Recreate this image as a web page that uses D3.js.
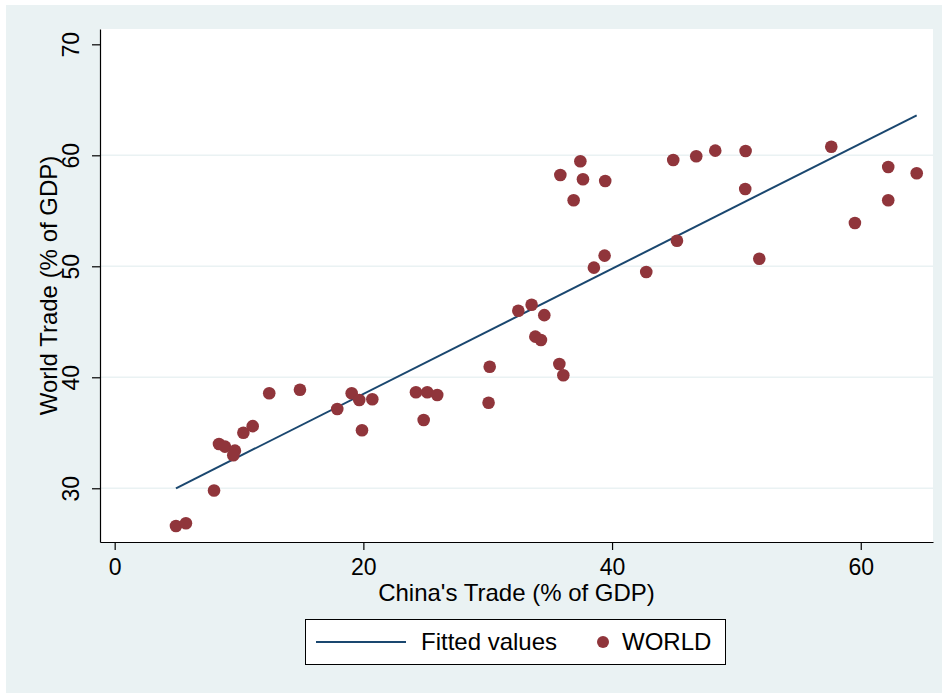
<!DOCTYPE html>
<html>
<head>
<meta charset="utf-8">
<script src="https://cdn.jsdelivr.net/npm/d3@7"></script>
<style>
  body { margin: 0; background: #fff; }
  text { font-family: "Liberation Sans", Arial, Helvetica, sans-serif; fill: #000; }
</style>
</head>
<body>
<div id="chart"></div>
<script>
// ===========Data
var chinaTrade = [4.93, 5.73, 7.99, 8.39, 8.87, 9.67, 9.54, 10.35, 11.1, 12.43,
    14.9, 17.9, 19.06, 19.67, 20.72, 19.89, 24.23, 25.14, 25.94, 24.85,
    30.16, 30.07, 32.46, 33.53, 34.55, 33.83, 34.28, 35.76, 36.08, 35.84,
    37.45, 37.66, 36.91, 39.45, 39.4, 38.54, 42.75, 44.92, 45.22, 46.77,
    48.3, 50.74, 50.71, 51.84, 57.63, 59.53, 62.21, 62.21, 64.5];
var worldTrade = [26.6, 26.85, 29.8, 33.99, 33.75, 33.39, 32.97, 35.0, 35.6, 38.56,
    38.88, 37.14, 38.56, 37.95, 38.02, 35.23, 38.65, 38.65, 38.4, 36.15,
    40.95, 37.71, 46.0, 46.54, 45.6, 43.66, 43.36, 41.2, 40.18, 58.22,
    59.46, 57.84, 55.95, 57.68, 50.96, 49.88, 49.49, 59.58, 52.3, 59.91,
    60.42, 60.39, 56.96, 50.68, 60.77, 53.9, 58.95, 55.95, 58.38];

// fitted line end points
var fitX = [4.93, 64.5];
var fitY = [30.0, 63.6];

var xTicks = [0, 20, 40, 60];
var yTicks = [30, 40, 50, 60, 70];
var yGrid = [30, 40, 50, 60];

var points = chinaTrade.map(function(d, i) { return {x: d, y: worldTrade[i]}; });
var fitted = fitX.map(function(d, i) { return {x: d, y: fitY[i]}; });

// ===========Sizes
var svgWidth = 942;
var svgHeight = 693;
var plot = {left: 100, top: 29, right: 933, bottom: 542};

var lineColor = "#1a476f";
var dotColor = "#90353b";
var bgColor = "#eaf2f3";

var svg = d3.select("#chart").append("svg")
    .attr("width", svgWidth)
    .attr("height", svgHeight);

// outer background
svg.append("rect")
    .attr("x", 6).attr("y", 5)
    .attr("width", svgWidth - 6).attr("height", svgHeight - 5)
    .attr("fill", bgColor);

// plot region
svg.append("rect")
    .attr("x", plot.left).attr("y", plot.top)
    .attr("width", plot.right - plot.left).attr("height", plot.bottom - plot.top)
    .attr("fill", "#fff");

// ===========Scales
var xScale = d3.scaleLinear()
    .domain([-1.18, 65.81])
    .range([plot.left, plot.right]);

var yScale = d3.scaleLinear()
    .domain([25.16, 71.38])
    .range([plot.bottom, plot.top]);

// gridlines
svg.append("g").selectAll("line")
    .data(yGrid)
    .enter()
    .append("line")
    .attr("x1", plot.left)
    .attr("x2", plot.right)
    .attr("y1", d => yScale(d))
    .attr("y2", d => yScale(d))
    .attr("stroke", bgColor)
    .attr("stroke-width", 1.5);

// ===========Axes
var bottomAxis = d3.axisBottom(xScale).tickValues(xTicks).tickSize(8).tickSizeOuter(0);
var leftAxis = d3.axisLeft(yScale).tickValues(yTicks).tickSize(8).tickSizeOuter(0);

var xAxis = svg.append("g")
    .attr("transform", `translate(0, ${plot.bottom})`)
    .call(bottomAxis);
xAxis.select(".domain").attr("stroke", "#000").attr("stroke-width", 1.2);
xAxis.selectAll(".tick line").attr("stroke", "#000").attr("stroke-width", 1.2);
xAxis.selectAll(".tick text")
    .attr("y", 33)
    .attr("dy", 0)
    .attr("font-size", "23px")
    .attr("font-family", "Liberation Sans, Arial, sans-serif")
    .attr("fill", "#000");

var yAxis = svg.append("g")
    .attr("transform", `translate(${plot.left}, 0)`)
    .call(leftAxis);
yAxis.select(".domain").attr("stroke", "#000").attr("stroke-width", 1.2);
yAxis.selectAll(".tick line").attr("stroke", "#000").attr("stroke-width", 1.2);
yAxis.selectAll(".tick text")
    .attr("transform", "rotate(-90)")
    .attr("x", 0)
    .attr("y", -21)
    .attr("dy", 0)
    .attr("text-anchor", "middle")
    .attr("font-size", "23px")
    .attr("font-family", "Liberation Sans, Arial, sans-serif")
    .attr("fill", "#000");

// axis titles
svg.append("text")
    .attr("x", (plot.left + plot.right) / 2)
    .attr("y", 601)
    .attr("text-anchor", "middle")
    .attr("font-size", "24px")
    .text("China's Trade (% of GDP)");

svg.append("text")
    .attr("transform", `translate(57, ${(plot.top + plot.bottom) / 2}) rotate(-90)`)
    .attr("text-anchor", "middle")
    .attr("font-size", "24px")
    .text("World Trade (% of GDP)");

// ===========Fitted line
var line = d3.line()
    .x(d => xScale(d.x))
    .y(d => yScale(d.y));

svg.append("path")
    .datum(fitted)
    .attr("d", line)
    .attr("fill", "none")
    .attr("stroke", lineColor)
    .attr("stroke-width", 2);

// ===========Scatter points
svg.append("g").selectAll("circle")
    .data(points)
    .enter()
    .append("circle")
    .attr("cx", d => xScale(d.x))
    .attr("cy", d => yScale(d.y))
    .attr("r", 6.3)
    .attr("fill", dotColor);

// ===========Legend
var legend = svg.append("g");
legend.append("rect")
    .attr("x", 305.5).attr("y", 619.5)
    .attr("width", 420).attr("height", 45)
    .attr("fill", "#fff")
    .attr("stroke", "#000")
    .attr("stroke-width", 1);
legend.append("line")
    .attr("x1", 316).attr("x2", 406)
    .attr("y1", 642).attr("y2", 642)
    .attr("stroke", lineColor)
    .attr("stroke-width", 2);
legend.append("text")
    .attr("x", 421).attr("y", 650)
    .attr("font-size", "24px")
    .text("Fitted values");
legend.append("circle")
    .attr("cx", 603).attr("cy", 642)
    .attr("r", 6)
    .attr("fill", dotColor);
legend.append("text")
    .attr("x", 622).attr("y", 650)
    .attr("font-size", "24px")
    .text("WORLD");
</script>
</body>
</html>
